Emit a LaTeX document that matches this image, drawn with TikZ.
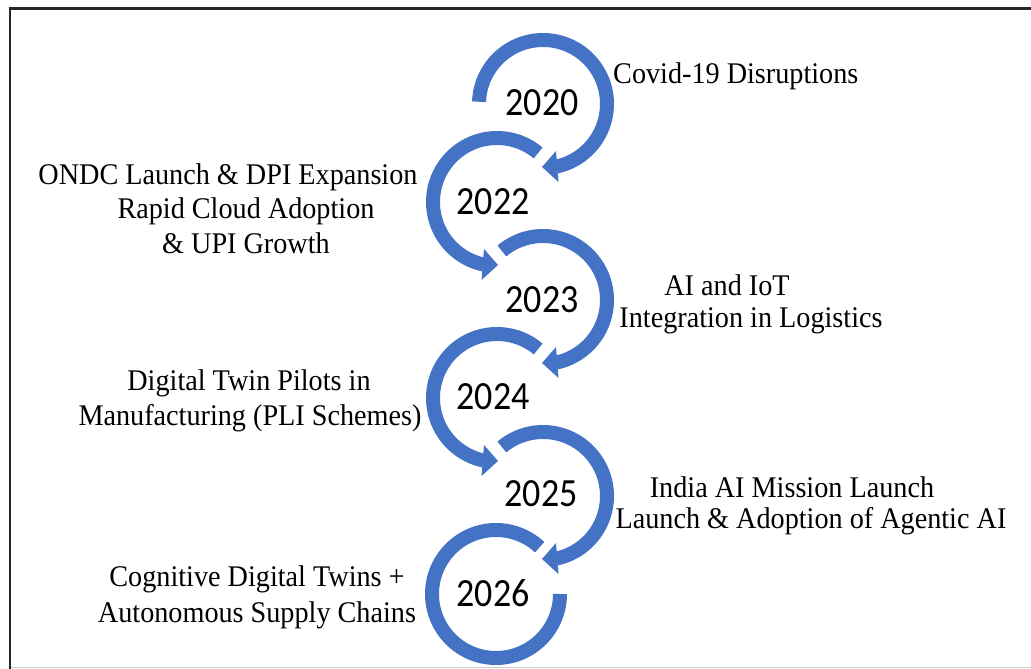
\documentclass[tikz,border=0pt]{standalone}
\usepackage{fontspec}
\setmainfont{Liberation Serif}[FakeStretch=0.94]
\newfontfamily\yearfont{Carlito}[FakeStretch=0.9]
\usetikzlibrary{calc}
\definecolor{arcblue}{HTML}{4472C4}
\begin{document}
\begin{tikzpicture}[x=1pt,y=1pt,
  band/.style={draw=arcblue, line width=14pt},
  head/.style={fill=arcblue, draw=none},
  yr/.style={font=\yearfont\fontsize{40}{48}\selectfont, inner sep=0pt, anchor=center},
  lbl/.style={font=\fontsize{30}{36}\selectfont, inner sep=0pt, anchor=base}]
\useasboundingbox (0,0) rectangle (1031,-669);
\fill[white] (0,0) rectangle (1031,-669);
% frame
\draw[black!85, line width=2.5pt] (10,-669) -- (10,-8.5) -- (1031,-8.5);
\draw[black!20, line width=1.5pt] (11,-667.5) -- (1031,-667.5);
% centres
\coordinate (c2020) at (543,-104);
\coordinate (c2022) at (497,-202);
\coordinate (c2023) at (543,-300);
\coordinate (c2024) at (497,-398);
\coordinate (c2025) at (543,-496);
\coordinate (c2026) at (496,-594);
% right column arcs (clockwise)
\draw[band] ($(c2020)+(178:64)$) arc[start angle=178, end angle=-78, radius=64];
\fill[head] ($(c2020)+(13,-47)$) -- ($(c2020)+(15.5,-78)$) -- ($(c2020)+(-1,-63)$) -- cycle;
\draw[band] ($(c2023)+(130:64)$) arc[start angle=130, end angle=-78, radius=64];
\fill[head] ($(c2023)+(13,-47)$) -- ($(c2023)+(15.5,-78)$) -- ($(c2023)+(-1,-63)$) -- cycle;
\draw[band] ($(c2025)+(130:64)$) arc[start angle=130, end angle=-78, radius=64];
\fill[head] ($(c2025)+(13,-47)$) -- ($(c2025)+(15.5,-78)$) -- ($(c2025)+(-1,-63)$) -- cycle;
% left column arcs (counter-clockwise)
\draw[band] ($(c2022)+(50:64)$) arc[start angle=50, end angle=258, radius=64];
\fill[head] ($(c2022)+(-13,-47)$) -- ($(c2022)+(-15.5,-78)$) -- ($(c2022)+(1,-63)$) -- cycle;
\draw[band] ($(c2024)+(50:64)$) arc[start angle=50, end angle=258, radius=64];
\fill[head] ($(c2024)+(-13,-47)$) -- ($(c2024)+(-15.5,-78)$) -- ($(c2024)+(1,-63)$) -- cycle;
\draw[band] ($(c2026)+(47:64)$) arc[start angle=47, end angle=360, radius=64];
% years
\node[yr] (y2020) at (542,-103) {2020};
\node[yr] (y2022) at (493,-202) {2022};
\node[yr] (y2023) at (542,-300) {2023};
\node[yr] (y2024) at (493,-397) {2024};
\node[yr] (y2025) at (541,-494) {2025};
\node[yr] (y2026) at (493,-593) {2026};
% labels
\node[lbl, anchor=base west] (t1) at (613,-83.5) {Covid-19 Disruptions};
\node[lbl] (t2a) at (228,-184) {ONDC Launch \& DPI Expansion};
\node[lbl] (t2b) at (246,-218) {Rapid Cloud Adoption};
\node[lbl] (t2c) at (246,-253) {\& UPI Growth};
\node[lbl] (t3a) at (727,-295) {AI and IoT};
\node[lbl] (t3b) at (751,-327) {Integration in Logistics};
\node[lbl] (t4a) at (249,-390) {Digital Twin Pilots in};
\node[lbl] (t4b) at (250,-425) {Manufacturing (PLI Schemes)};
\node[lbl] (t5a) at (792,-497) {India AI Mission Launch};
\node[lbl] (t5b) at (811,-528) {Launch \& Adoption of Agentic AI};
\node[lbl] (t6a) at (257,-586) {Cognitive Digital Twins +};
\node[lbl] (t6b) at (257,-622) {Autonomous Supply Chains};
\end{tikzpicture}
\end{document}
